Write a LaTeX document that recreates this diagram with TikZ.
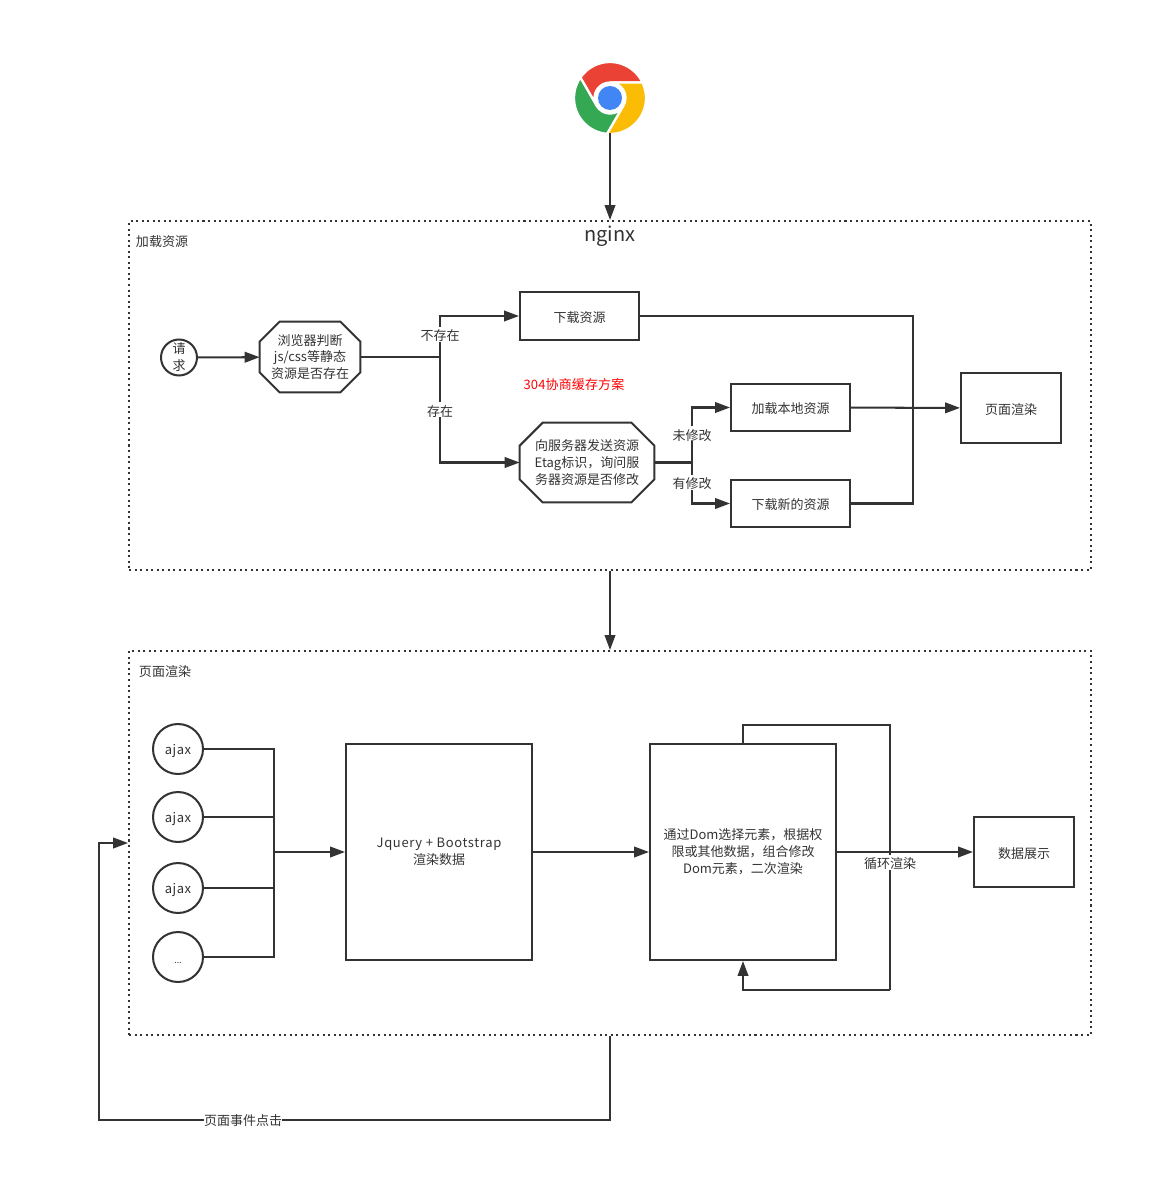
\documentclass[tikz,border=0pt]{standalone}
\usepackage{fontspec}
\setmainfont{Noto Sans CJK SC}
\usetikzlibrary{arrows.meta}
\definecolor{inkgray}{HTML}{333333}
\definecolor{chromered}{HTML}{EA4335}
\definecolor{chromegreen}{HTML}{34A853}
\definecolor{chromeyellow}{HTML}{FBBC05}
\definecolor{chromeblue}{HTML}{4285F4}
\tikzset{
	line/.style={draw=inkgray, line width=1.15pt},
	flow/.style={line, -{Triangle[length=8.5pt,width=6pt]}},
	lbl/.style={font=\fontsize{7.4pt}{9.6pt}\selectfont, text=inkgray, align=center, inner sep=0pt, execute at begin node={\rule{0pt}{8pt}}},
	lblfill/.style={lbl, fill=white},
	boxed/.style={lbl, line, rectangle},
	tallbox/.style={boxed, minimum width=3.72cm, minimum height=4.32cm, execute at begin node={\rule{0pt}{10pt}}},
	ball/.style={lbl, line, circle, fill=white},
	group/.style={draw=inkgray, line width=1.15pt, dotted, rectangle, inner sep=0pt, minimum width=19.24cm},
}
\newcommand{\octoedge}[2]{\draw[line] ([xshift=#2]#1.north west) -- ([xshift=-#2]#1.north east) -- ([yshift=-#2]#1.north east) -- ([yshift=#2]#1.south east) -- ([xshift=-#2]#1.south east) -- ([xshift=#2]#1.south west) -- ([yshift=#2]#1.south west) -- ([yshift=-#2]#1.north west) -- cycle;}
\begin{document}
\begin{tikzpicture}[x=0.02cm, y=-0.02cm]
	\useasboundingbox (0,0) rectangle (1152,1182);
	% logo
	\begin{scope}[shift={(610,98)}, x=0.02cm, y=0.02cm]
		\foreach \ang/\col in {0/chromered, 120/chromegreen, 240/chromeyellow}
			\fill[\col, draw=white, line width=1.3pt, rotate=\ang]
				(90:15.5) -- (25.4:36) arc[start angle=25.4, end angle=145.4, radius=36] -- (210:15.5) arc[start angle=210, end angle=90, radius=15.5] -- cycle;
		\fill[chromeblue] (0,0) circle[radius=12];
	\end{scope}
	\coordinate (chrome) at (610,133);

	% groups
	\node[group, minimum height=6.98cm] (loadbox) at (610,395.5) {};
	\node[group, minimum height=7.68cm] (renderbox) at (610,843) {};
	\node[lbl] (loadtitle) at (162,240) {加载资源};
	\node[lbl] (rendertitle) at (165,670.5) {页面渲染};
	\node[lbl, font=\fontsize{11.4pt}{12pt}\selectfont] (nginx) at (610,236) {nginx};
	\node[lbl, text=red] (cachenote) at (574,383) {\addfontfeature{LetterSpace=1}304协商缓存方案};

	% load
	\node[ball, minimum size=0.72cm] (req) at (179,357.5) {请\\求};
	\node[lbl, minimum width=2cm, minimum height=1.4cm] (browser) at (310,357) {浏览器判断\\js/css等静态\\资源是否存在};
	\octoedge{browser}{0.4cm}
	\node[boxed, minimum width=2.38cm, minimum height=0.96cm] (download) at (579.5,316) {下载资源};
	\node[lbl, minimum width=2.68cm, minimum height=1.58cm] (ask) at (587,462.5) {向服务器发送资源\\Etag标识，询问服\\务器资源是否修改};
	\octoedge{ask}{0.46cm}
	\node[boxed, minimum width=2.38cm, minimum height=0.94cm] (local) at (790.5,407.5) {加载本地资源};
	\node[boxed, minimum width=2.38cm, minimum height=0.94cm] (fresh) at (790.5,503.5) {下载新的资源};
	\node[boxed, minimum width=2cm, minimum height=1.4cm] (page) at (1011,408) {页面渲染};
	\coordinate (split) at (440,357);
	\coordinate (asksplit) at (692,462.5);
	\coordinate (merge) at (913,408);

	\draw[flow] (req) -- (browser);
	\draw[line] (browser) -- (split);
	\draw[flow] (split) |- node[lblfill, pos=0.275] (nolabel) {不存在} (download);
	\draw[flow] (split) |- node[lblfill, pos=0.25] (yeslabel) {存在} (ask);
	\draw[line] (ask) -- (asksplit);
	\draw[flow] (asksplit) |- node[lblfill, pos=0.26] (samelabel) {未修改} (local);
	\draw[flow] (asksplit) |- node[lblfill, pos=0.24] (difflabel) {有修改} (fresh);
	\draw[line] (download) -| (merge);
	\draw[line] (fresh) -| (merge);
	\draw[flow] (local) -- (page);

	% render
	\foreach \name/\yy in {ajaxa/749, ajaxb/817, ajaxc/888}
		\node[ball, minimum size=1cm] (\name) at (178,\yy) {\addfontfeature{LetterSpace=4}ajax};
	\node[ball, minimum size=1cm] (ajaxd) at (178,957) {\tiny ...};
	\node[tallbox] (jq) at (439,852) {\addfontfeature{LetterSpace=5}Jquery + Bootstrap\\渲染数据};
	\node[tallbox] (dom) at (743,852) {通过Dom选择元素，根据权\\限或其他数据，组合修改\\Dom元素，二次渲染};
	\node[boxed, minimum width=2cm, minimum height=1.4cm] (show) at (1024,852) {数据展示};
	\coordinate (ajaxjoin) at (274,852);
	\coordinate (looptop) at (890,725);
	\coordinate (loopbot) at (890,990);
	\coordinate (eventcorner) at (99,1120);

	\foreach \name in {ajaxa, ajaxb, ajaxc, ajaxd}
		\draw[line] (\name) -| (ajaxjoin);
	\draw[flow] (ajaxjoin) -- (jq);
	\draw[flow] (jq) -- (dom);
	\draw[flow] (dom) -- (show);
	\draw[line] (dom.north) |- (looptop) -- (loopbot);
	\draw[flow] (loopbot) -| (dom.south);
	\node[lblfill] (looplabel) at (890,862.5) {循环渲染};

	% arrows between groups
	\draw[flow] (chrome) -- (loadbox.north);
	\draw[flow] (loadbox.south) -- (renderbox.north);
	\draw[flow] (renderbox.south) |- (eventcorner) |- (renderbox.west);
	\node[lblfill] (eventlabel) at (243,1119) {页面事件点击};
\end{tikzpicture}
\end{document}
